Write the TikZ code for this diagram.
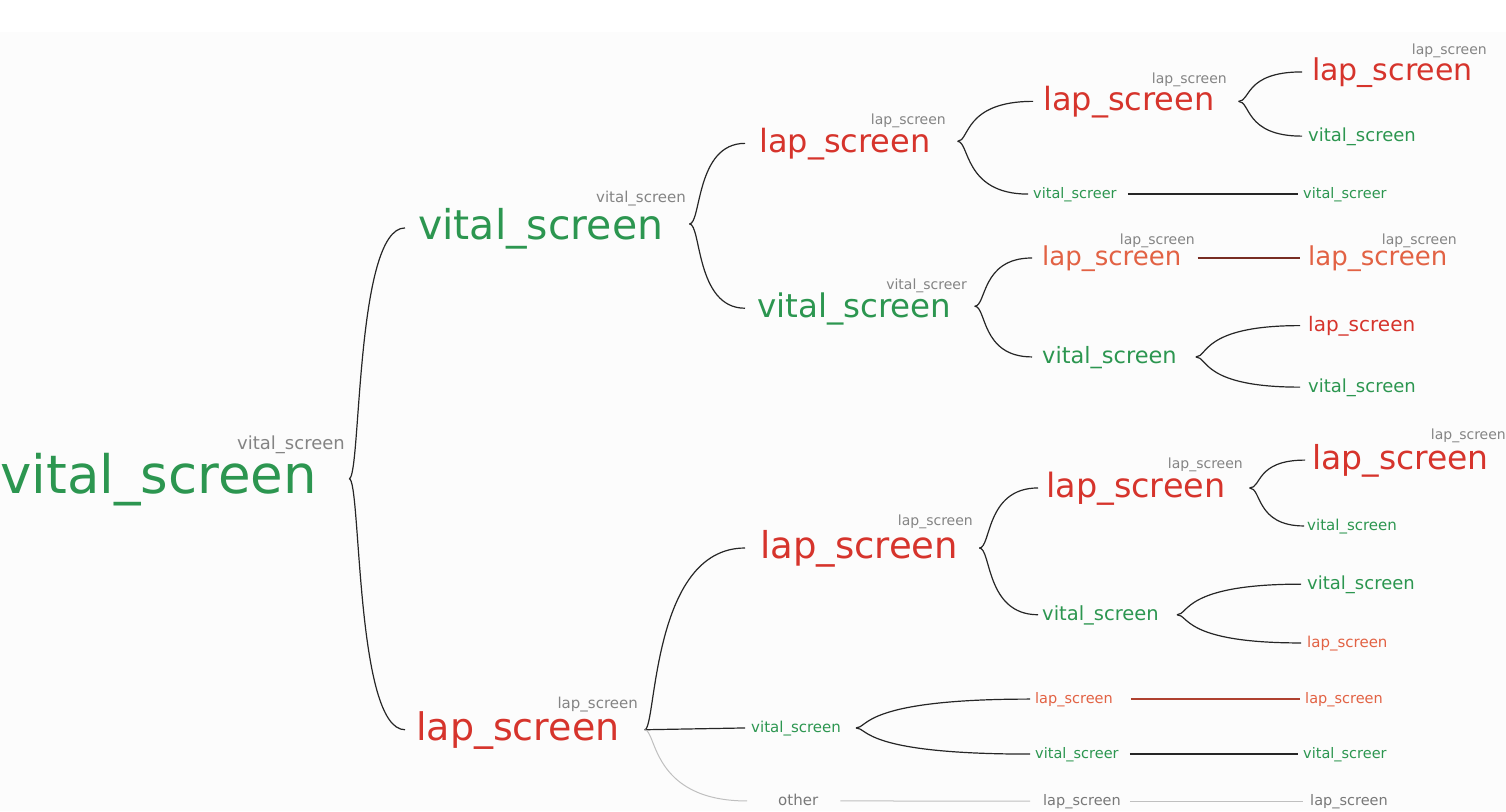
\documentclass[tikz,border=0pt]{standalone}
\usepackage{fontspec}
\setmainfont{DejaVu Sans}
\usetikzlibrary{calc}
\definecolor{tgreen}{RGB}{44,150,80}
\definecolor{tred}{RGB}{214,52,44}
\definecolor{torange}{RGB}{226,98,68}
\definecolor{tlabel}{RGB}{132,132,132}
\definecolor{tother}{RGB}{120,120,120}
\definecolor{bgc}{RGB}{252,252,252}
\definecolor{dkred}{RGB}{120,45,35}
\definecolor{mdred}{RGB}{175,65,48}
\tikzset{
  txt/.style={inner sep=0pt, anchor=base west, font=\fontsize{#1}{#1}\selectfont},
  lbl/.style={inner sep=0pt, anchor=base east, text=tlabel, font=\fontsize{#1}{#1}\selectfont},
  grn/.style={text=tgreen}, rd/.style={text=tred}, org/.style={text=torange}, gry/.style={text=tother},
  link/.style={draw=black!85, line width=1.2pt},
  redlink/.style={draw=mdred, line width=1.2pt},
  darkredlink/.style={draw=dkred, line width=1.1pt},
  greylink/.style={draw=black!25, line width=1pt},
}
% text node with entry (-i) and exit (-o) points at mid height
\newcommand\tn[6]{\node[txt=#4,#5] (#1) at (#2,#3) {#6};
  \coordinate (#1-i) at ([yshift=0.27*#4]#1.base west);
  \coordinate (#1-o) at ([yshift=0.27*#4]#1.base east);}
\newcommand\brch[3]{\draw[link] (#1) .. controls +(12,0) and ($(#1 |- #2-i)+(6,0)$) .. ($(#2-i)+(-#3,0)$);}
\begin{document}
\begin{tikzpicture}[x=1pt,y=-1pt]
\useasboundingbox (0,0) rectangle (1506,811);
\fill[bgc] (0,32) rectangle (1506,811);
% level 0
\tn{R}{0}{493}{53}{grn}{vital\_screen}
\node[lbl=18] (Rl) at (345,449) {vital\_screen};
% level 1
\tn{A}{418}{239}{41}{grn}{vital\_screen}
\node[lbl=15] (Al) at (686,202) {vital\_screen};
\tn{B}{416}{740}{38}{rd}{lap\_screen}
\node[lbl=15] (Bl) at (638,708) {lap\_screen};
% level 2
\tn{AA}{759}{152}{32}{rd}{lap\_screen}
\node[lbl=14] (AAl) at (946,124) {lap\_screen};
\tn{AB}{757}{317}{32.5}{grn}{vital\_screen}
\node[lbl=14] (ABl) at (967,289) {vital\_screer};
\tn{BA}{760}{558}{37}{rd}{lap\_screen}
\node[lbl=14] (BAl) at (973,525) {lap\_screen};
\tn{BB}{751}{732}{15}{grn}{vital\_screen}
\tn{BC}{778}{805}{15}{gry}{other}
% level 3
\tn{AAA}{1043}{110}{32}{rd}{lap\_screen}
\node[lbl=14] (AAAl) at (1227,83) {lap\_screen};
\tn{AAB}{1033}{198}{14.5}{grn}{vital\_screer}
\tn{ABA}{1042}{265}{26}{org}{lap\_screen}
\node[lbl=14] (ABAl) at (1195,244) {lap\_screen};
\tn{ABB}{1042}{363}{22.5}{grn}{vital\_screen}
\tn{BAA}{1046}{497}{33.5}{rd}{lap\_screen}
\node[lbl=14] (BAAl) at (1243,468) {lap\_screen};
\tn{BAB}{1042}{620}{19.5}{grn}{vital\_screen}
\tn{BBA}{1035}{703}{14.5}{org}{lap\_screen}
\tn{BBB}{1035}{758}{14.5}{grn}{vital\_screer}
\tn{BCA}{1043}{805}{14.5}{gry}{lap\_screen}
% level 4
\tn{AAAA}{1312}{80}{30}{rd}{lap\_screen}
\node[lbl=14] (AAAAl) at (1487,54) {lap\_screen};
\tn{AAAB}{1308}{141}{18}{grn}{vital\_screen}
\tn{AABx}{1303}{198}{14.5}{grn}{vital\_screer}
\tn{ABAx}{1308}{265}{26}{org}{lap\_screen}
\node[lbl=14] (ABAxl) at (1457,244) {lap\_screen};
\tn{ABBA}{1308}{331}{20}{rd}{lap\_screen}
\tn{ABBB}{1308}{392}{18}{grn}{vital\_screen}
\tn{BAAA}{1312}{469}{33}{rd}{lap\_screen}
\node[lbl=14] (BAAAl) at (1506,439) {lap\_screen};
\tn{BAAB}{1307}{530}{15}{grn}{vital\_screen}
\tn{BABA}{1307}{589}{18}{grn}{vital\_screen}
\tn{BABB}{1307}{647}{15}{org}{lap\_screen}
\tn{BBAx}{1305}{703}{14.5}{org}{lap\_screen}
\tn{BBBx}{1303}{758}{14.5}{grn}{vital\_screer}
\tn{BCB}{1310}{805}{14.5}{gry}{lap\_screen}
% cusps
\coordinate (cR) at ([xshift=32]R-o);
\coordinate (cA) at ([xshift=26,yshift=4]A-o);
\coordinate (cB) at ([xshift=25]B-o);
\coordinate (cAA) at ([xshift=27,yshift=2]AA-o);
\coordinate (cAB) at ([xshift=23,yshift=2]AB-o);
\coordinate (cBA) at ([xshift=21]BA-o);
\coordinate (cBB) at ([xshift=15]BB-o);
\coordinate (cAAA) at ([xshift=24]AAA-o);
\coordinate (cABB) at ([xshift=19]ABB-o);
\coordinate (cBAA) at ([xshift=24]BAA-o);
\coordinate (cBAB) at ([xshift=18]BAB-o);
% braces
\brch{cR}{A}{13}
\brch{cR}{B}{11}
\brch{cA}{AA}{14}
\brch{cA}{AB}{12}
\brch{cAA}{AAA}{10}
\brch{cAA}{AAB}{5}
\brch{cAAA}{AAAA}{10}
\brch{cAAA}{AAAB}{6}
\brch{cAB}{ABA}{10}
\brch{cAB}{ABB}{10}
\brch{cABB}{ABBA}{8}
\brch{cABB}{ABBB}{8}
\brch{cB}{BA}{15}
\draw[link] (cB) -- ($(BB-i)+(-6,0)$);
\draw[greylink] (cB) .. controls +(12,0) and ($(cB |- BC-i)+(6,0)$) .. ($(BC-i)+(-31,0)$);
\brch{cBA}{BAA}{8}
\brch{cBA}{BAB}{4}
\brch{cBAA}{BAAA}{7}
\brch{cBAA}{BAAB}{3}
\brch{cBAB}{BABA}{6}
\brch{cBAB}{BABB}{6}
\brch{cBB}{BBA}{5}
\brch{cBB}{BBB}{5}
% straight continuations
\draw[link] ($(AAB-o)+(11,0)$) -- ($(AABx-i)+(-5,0)$);
\draw[darkredlink] ($(ABA-o)+(16,0)$) -- ($(ABAx-i)+(-8,0)$);
\draw[redlink] ($(BBA-o)+(18,0)$) -- ($(BBAx-i)+(-5,0)$);
\draw[link] ($(BBB-o)+(11,0)$) -- ($(BBBx-i)+(-5,0)$);
\draw[greylink] ($(BC-o)+(22,0)$) -- ($(BCA-i)+(-13,0)$);
\draw[greylink] ($(BCA-o)+(9,0)$) -- ($(BCB-i)+(-7,0)$);
\end{tikzpicture}
\end{document}
